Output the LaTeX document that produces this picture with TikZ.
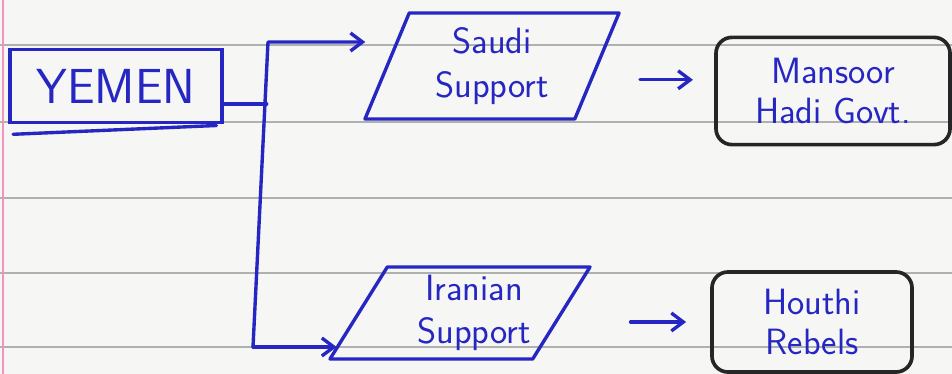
\documentclass[tikz,border=0pt]{standalone}
\usepackage{tikz}
\usetikzlibrary{shapes.geometric,arrows.meta,positioning}

\definecolor{ink}{RGB}{38,38,195}
\definecolor{paper}{RGB}{246,246,244}
\definecolor{ruling}{RGB}{175,177,175}
\definecolor{margin}{RGB}{240,150,190}

\tikzset{
  inkline/.style={draw=ink, line width=2.4pt, line cap=round, line join=round},
  arr/.style={inkline, -{Straight Barb[length=3mm,width=4.5mm]}},
  supportbox/.style 2 args={trapezium, trapezium left angle=#1, trapezium right angle=#2,
    trapezium stretches body, inkline, text=ink, align=center, inner sep=0pt,
    font=\sffamily\fontsize{26}{31}\selectfont},
  govbox/.style={draw=black!85, line width=2.6pt, rounded corners=0.4cm, text=ink,
    align=center, inner sep=0pt, font=\sffamily\fontsize{26}{28}\selectfont}
}

\begin{document}
\begin{tikzpicture}[x=0.025cm, y=-0.025cm]
\fill[paper] (0,0) rectangle (952,374);
\useasboundingbox (0,0) rectangle (952,374);
% ruled paper
\foreach \yy in {45,122,198,273,347}
  \draw[ruling, line width=0.8pt] (0,\yy) -- (952,\yy);
\draw[margin, line width=1.2pt] (3,0) -- (3,374);

\node[draw=ink, line width=2.4pt, minimum width=5.3cm, minimum height=1.83cm,
      text=ink, font=\sffamily\fontsize{35}{36}\selectfont] (yemen) at (116,86) {YEMEN};
\draw[inkline] ([xshift=0.12cm,yshift=-0.25cm]yemen.south west) -- ([xshift=-0.18cm,yshift=-0.03cm]yemen.south east);

\node[supportbox={60}{120}, minimum width=6.35cm, minimum height=2.65cm] (saudi) at (492,66) {Saudi\\Support};
\node[supportbox={53}{127}, minimum width=6.5cm, minimum height=2.3cm] (iranian) at (460,313)
  {\hspace*{0.7cm}Iranian\\\hspace*{0.7cm}Support};

\node[govbox, minimum width=5.85cm, minimum height=2.68cm] (mansoor) at (833,91) {Mansoor\\Hadi Govt.};
\node[govbox, minimum width=5cm, minimum height=2.5cm] (houthi) at (812,322) {Houthi\\Rebels};

% branching connector
\coordinate (ttop) at (268,42);
\coordinate (tbot) at (253,347);
\draw[inkline] ([yshift=-0.45cm]yemen.east) -- ++(43,0);
\draw[arr, shorten >=0.5cm] (tbot) -- (ttop) -- (ttop -| saudi.west);
\draw[arr, shorten >=0.5cm] (tbot) -- (tbot -| iranian.west);

\coordinate (mtip) at ([yshift=0.28cm]mansoor.west);
\draw[arr, shorten <=1.03cm, shorten >=0.53cm] (saudi.east |- mtip) -- (mtip);
\draw[arr, shorten <=1.68cm, shorten >=0.6cm] (iranian.east |- houthi.west) -- (houthi.west);
\end{tikzpicture}
\end{document}
